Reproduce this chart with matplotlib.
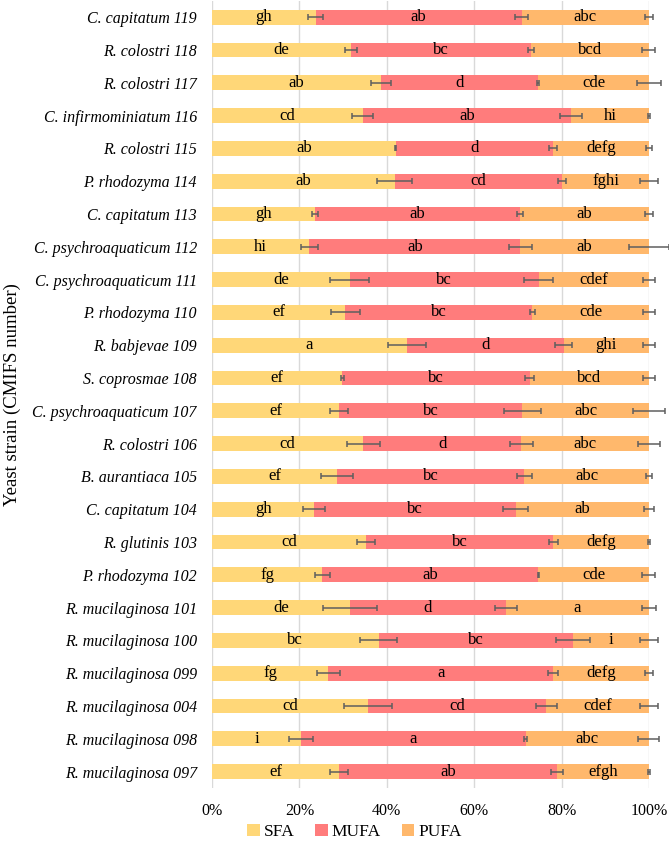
import matplotlib
matplotlib.use('Agg')
import matplotlib.pyplot as plt
import numpy as np

plt.rcParams['font.family'] = ['Liberation Serif', 'DejaVu Serif']

# strains from bottom to top
strains = ['R. mucilaginosa 097', 'R. mucilaginosa 098', 'R. mucilaginosa 004', 'R. mucilaginosa 099',
           'R. mucilaginosa 100', 'R. mucilaginosa 101', 'P. rhodozyma 102', 'R. glutinis 103',
           'C. capitatum 104', 'B. aurantiaca 105', 'R. colostri 106', 'C. psychroaquaticum 107',
           'S. coprosmae 108', 'R. babjevae 109', 'P. rhodozyma 110', 'C. psychroaquaticum 111',
           'C. psychroaquaticum 112', 'C. capitatum 113', 'P. rhodozyma 114', 'R. colostri 115',
           'C. infirmominiatum 116', 'R. colostri 117', 'R. colostri 118', 'C. capitatum 119']

sfa = [29.1, 20.3, 35.7, 26.6, 38.1, 31.6, 25.2, 35.2, 23.4, 28.6, 34.6, 29.1,
       29.8, 44.6, 30.5, 31.5, 22.3, 23.5, 41.8, 42.0, 34.5, 38.7, 31.8, 23.7]
mufa = [49.8, 51.5, 40.8, 51.5, 44.5, 35.6, 49.5, 42.9, 46.1, 42.9, 36.2, 41.9,
        42.9, 35.9, 42.8, 43.3, 48.3, 46.9, 38.3, 36.1, 47.6, 35.9, 41.2, 47.2]
pufa = [100 - a - b for a, b in zip(sfa, mufa)]

sfa_err = [2.0, 2.8, 5.6, 2.6, 4.2, 6.2, 1.7, 2.1, 2.5, 3.6, 3.8, 2.0,
           0.4, 4.3, 3.3, 4.4, 2.0, 0.7, 4.0, 0.1, 2.4, 2.3, 1.4, 1.7]
mufa_err = [1.4, 0.3, 2.4, 1.1, 3.8, 2.5, 0.1, 1.0, 2.8, 1.7, 2.7, 4.2,
            1.0, 1.9, 0.6, 3.3, 2.6, 0.7, 0.9, 0.9, 2.5, 0.2, 0.7, 1.5]
pufa_err = [0.2, 2.4, 2.0, 1.0, 2.0, 1.6, 1.5, 0.2, 1.2, 0.6, 2.6, 3.7,
            1.3, 1.3, 1.3, 1.3, 4.5, 0.9, 2.0, 0.6, 0.2, 2.8, 1.5, 1.0]

sfa_let = ['ef', 'i', 'cd', 'fg', 'bc', 'de', 'fg', 'cd', 'gh', 'ef', 'cd', 'ef',
           'ef', 'a', 'ef', 'de', 'hi', 'gh', 'ab', 'ab', 'cd', 'ab', 'de', 'gh']
mufa_let = ['ab', 'a', 'cd', 'a', 'bc', 'd', 'ab', 'bc', 'bc', 'bc', 'd', 'bc',
            'bc', 'd', 'bc', 'bc', 'ab', 'ab', 'cd', 'd', 'ab', 'd', 'bc', 'ab']
pufa_let = ['efgh', 'abc', 'cdef', 'defg', 'i', 'a', 'cde', 'defg', 'ab', 'abc', 'abc', 'abc',
            'bcd', 'ghi', 'cde', 'cdef', 'ab', 'ab', 'fghi', 'defg', 'hi', 'cde', 'bcd', 'abc']

colors = ['#FFD778', '#FF7C7C', '#FFB86C']
labels = ['SFA', 'MUFA', 'PUFA']

fig = plt.figure(figsize=(6.69, 8.41), dpi=100)
ax = fig.add_axes([0.317, 0.063, 0.653, 0.936])

y = np.arange(len(strains))
sfa = np.array(sfa)
mufa = np.array(mufa)
pufa = np.array(pufa)
lefts = [np.zeros(len(y)), sfa, sfa + mufa]
vals = [sfa, mufa, pufa]
errs = [sfa_err, mufa_err, pufa_err]
lets = [sfa_let, mufa_let, pufa_let]

for i in range(3):
    ax.barh(y, vals[i], left=lefts[i], height=0.45, color=colors[i], label=labels[i], zorder=2)
for i in range(3):
    ends = lefts[i] + vals[i]
    ax.errorbar(ends, y, xerr=errs[i], fmt='none', ecolor='#5f5f5f', elinewidth=1.1,
                capsize=2.5, capthick=1.1, zorder=3, clip_on=False)
    for j in range(len(y)):
        ax.text(lefts[i][j] + vals[i][j] / 2, y[j], lets[i][j], ha='center', va='center',
                fontsize=12, color='black', zorder=4)

ax.set_xlim(0, 100)
ax.set_ylim(-0.5, len(y) - 0.5)
ax.set_yticks(y)
ax.set_yticklabels(strains, fontsize=11.5, style='italic')
ax.set_xticks([0, 20, 40, 60, 80, 100])
ax.set_xticklabels(['0%', '20%', '40%', '60%', '80%', '100%'], fontsize=11.5)
ax.tick_params(axis='both', length=0)
ax.tick_params(axis='x', pad=11)
ax.tick_params(axis='y', pad=11)
ax.xaxis.grid(True, color='#d9d9d9', linewidth=1, zorder=0)
ax.set_axisbelow(True)
for s in ax.spines.values():
    s.set_visible(False)
ax.set_ylabel('Yeast strain (CMIFS number)', fontsize=13.5)
ax.yaxis.set_label_coords(-0.438, 0.5)

fig.legend(*ax.get_legend_handles_labels(), loc='center', bbox_to_anchor=(0.53, 0.0105), ncol=3,
           frameon=False, fontsize=12.5, handlelength=0.7, handleheight=0.7, handletextpad=0.25,
           columnspacing=1.2, borderpad=0)

fig.savefig('out.png', dpi=100)
